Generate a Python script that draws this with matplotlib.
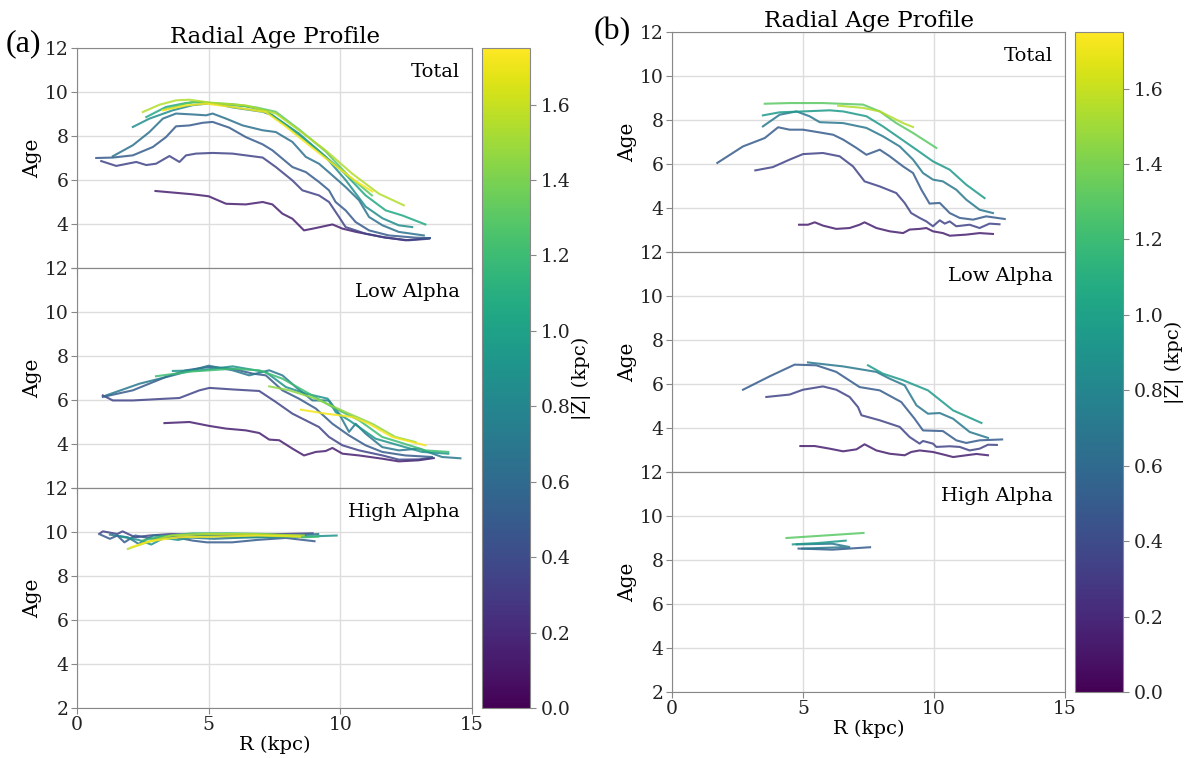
import numpy as np
import matplotlib
matplotlib.use('Agg')
import matplotlib.pyplot as plt
from matplotlib import cm, colors

plt.rcParams['font.family'] = ['DejaVu Serif']
plt.rcParams['font.size'] = 13.5

#--① data : |Z| of each line, R and Age points
a_total_z = [0.15, 0.35, 0.5, 0.65, 0.85, 1.05, 1.3, 1.55, 1.72]
a_total_r = [
    [2.98, 4.39, 5.0, 5.66, 6.41, 7.05, 7.42, 7.8, 8.18, 8.62, 9.0, 9.7, 10.08, 10.6, 11.6, 12.47, 13.4],
    [0.92, 1.49, 2.25, 2.63, 3.0, 3.51, 3.89, 4.14, 4.52, 5.15, 5.9, 7.05, 7.55, 8.18, 8.56, 9.19, 9.57, 9.95, 10.2, 10.96, 11.7, 12.6, 13.36],
    [0.73, 1.36, 2.12, 2.88, 3.38, 3.76, 4.27, 4.77, 5.15, 5.78, 6.41, 7.05, 7.42, 7.8, 8.18, 8.69, 9.19, 9.57, 9.82, 10.2, 10.58, 11.09, 11.84, 12.85, 13.4],
    [1.36, 2.12, 2.75, 3.26, 3.76, 4.39, 4.9, 5.15, 5.66, 6.29, 7.05, 7.55, 8.18, 8.69, 9.19, 9.7, 10.2, 10.71, 11.09, 11.6, 12.22, 13.17],
    [2.12, 2.75, 3.64, 4.39, 5.15, 5.9, 7.05, 7.42, 8.43, 9.44, 10.2, 10.96, 11.6, 12.22, 12.73],
    [2.63, 3.38, 4.14, 4.65, 5.5, 6.4, 7.17, 8.05, 9.06, 10.08, 10.96, 11.72, 12.35, 13.23],
    [3.3, 3.9, 4.4, 5.0, 5.9, 6.8, 7.55, 8.43, 9.44, 10.3, 11.2],
    [2.5, 3.13, 3.76, 4.27, 5.03, 6.41, 7.55, 8.43, 9.44, 10.45, 11.46, 12.41],
    [3.26, 4.14, 4.9, 5.9, 7.17, 7.92, 8.93, 9.82, 10.58, 11.21],
]
a_total_age = [
    [5.5, 5.35, 5.26, 4.92, 4.89, 5.0, 4.89, 4.47, 4.24, 3.71, 3.8, 3.98, 3.79, 3.64, 3.41, 3.26, 3.36],
    [6.86, 6.64, 6.82, 6.68, 6.74, 7.09, 6.82, 7.12, 7.2, 7.23, 7.2, 7.02, 6.59, 5.98, 5.53, 5.3, 5.0, 4.32, 3.86, 3.56, 3.38, 3.26, 3.33],
    [7.0, 7.02, 7.12, 7.5, 7.95, 8.44, 8.48, 8.6, 8.64, 8.38, 7.95, 7.62, 7.35, 6.97, 6.59, 6.36, 5.91, 5.53, 5.0, 4.62, 4.09, 3.71, 3.48, 3.38, 3.36],
    [7.08, 7.58, 8.18, 8.79, 9.02, 8.98, 8.94, 9.02, 8.79, 8.48, 8.26, 8.18, 7.73, 7.05, 6.74, 6.21, 5.68, 5.08, 4.32, 3.94, 3.64, 3.48],
    [8.41, 8.79, 9.17, 9.4, 9.5, 9.3, 9.1, 8.94, 8.11, 7.05, 6.0, 4.79, 4.26, 3.94, 3.86],
    [8.86, 9.32, 9.5, 9.55, 9.45, 9.35, 9.15, 8.4, 7.45, 6.4, 5.3, 4.62, 4.39, 3.98],
    [9.2, 9.4, 9.55, 9.5, 9.45, 9.3, 9.1, 8.3, 7.3, 6.2, 5.3],
    [9.09, 9.42, 9.62, 9.65, 9.52, 9.39, 9.02, 8.26, 7.35, 6.29, 5.38, 4.85],
    [9.17, 9.39, 9.47, 9.32, 9.09, 8.44, 7.47, 6.64, 5.95, 5.48],
]

a_low_z = [0.15, 0.35, 0.5, 0.7, 0.9, 1.2, 1.45, 1.72]
a_low_r = [
    [3.32, 4.27, 5.03, 5.66, 6.41, 6.92, 7.3, 7.68, 8.18, 8.62, 9.07, 9.44, 9.7, 10.08, 10.71, 11.6, 12.22, 12.98, 13.55],
    [0.98, 1.36, 2.12, 3.38, 3.89, 4.65, 5.03, 5.91, 6.92, 7.55, 8.18, 8.81, 9.19, 9.57, 10.08, 10.71, 11.6, 12.22, 12.98, 13.48],
    [0.98, 2.12, 3.38, 4.14, 5.0, 5.91, 6.67, 7.17, 7.8, 8.43, 9.07, 9.7, 10.33, 10.96, 11.59, 12.47, 13.48],
    [1.11, 2.37, 3.64, 5.0, 5.91, 6.54, 7.3, 7.8, 8.31, 8.94, 9.57, 9.95, 10.33, 10.58, 10.96, 11.59, 12.22, 12.98, 13.86, 14.56],
    [3.64, 4.65, 5.91, 7.17, 7.93, 8.69, 9.52, 9.82, 10.33, 10.71, 11.34, 12.22, 13.1, 14.1],
    [3.0, 4.39, 5.91, 6.92, 7.8, 8.81, 9.7, 10.71, 11.59, 12.22, 13.23, 14.1],
    [7.3, 8.06, 9.07, 10.2, 11.21, 12.09, 12.85],
    [8.5, 9.45, 10.45, 11.09, 11.97, 12.73, 13.23],
]
a_low_age = [
    [4.95, 5.0, 4.82, 4.7, 4.62, 4.5, 4.2, 4.17, 3.79, 3.48, 3.64, 3.68, 3.82, 3.56, 3.48, 3.33, 3.21, 3.26, 3.36],
    [6.21, 5.98, 5.98, 6.06, 6.09, 6.44, 6.55, 6.48, 6.41, 5.91, 5.38, 5.0, 4.77, 4.32, 3.94, 3.71, 3.48, 3.29, 3.3, 3.38],
    [6.14, 6.44, 7.05, 7.35, 7.5, 7.42, 7.2, 7.12, 6.44, 6.06, 5.61, 4.92, 4.39, 3.94, 3.64, 3.48, 3.41],
    [6.21, 6.74, 7.12, 7.56, 7.35, 7.12, 7.35, 7.12, 6.59, 5.98, 5.98, 5.38, 4.55, 4.92, 4.47, 3.86, 3.71, 3.79, 3.41, 3.35],
    [7.32, 7.35, 7.53, 7.27, 6.59, 6.29, 6.06, 5.45, 5.08, 4.77, 4.24, 3.94, 3.64, 3.56],
    [7.08, 7.3, 7.42, 7.35, 6.97, 6.29, 5.68, 5.08, 4.32, 4.09, 3.71, 3.64],
    [6.62, 6.44, 6.06, 5.45, 4.92, 4.32, 4.09],
    [5.56, 5.38, 5.23, 4.92, 4.32, 4.09, 3.94],
]

a_high_z = [0.35, 0.5, 0.7, 0.9, 1.2, 1.55, 1.72]
a_high_r = [
    [0.84, 0.98, 1.53, 1.73, 2.21, 2.75, 3.57, 4.39, 5.2, 6.57, 7.93, 8.95],
    [0.91, 1.25, 1.53, 1.8, 2.21, 2.89, 3.57, 4.39, 4.93, 5.89, 6.84, 7.93, 9.02],
    [1.25, 1.93, 2.34, 2.89, 4.11, 5.2, 6.57, 7.93, 9.16],
    [1.66, 2.34, 2.82, 3.3, 3.84, 4.66, 5.89, 7.25, 8.61, 9.86],
    [2.48, 3.16, 4.39, 5.75, 7.11, 8.61, 9.16],
    [1.93, 2.48, 2.89, 3.57, 4.93, 6.57, 8.61],
    [2.07, 2.75, 3.84, 5.2, 6.84, 8.47],
]
a_high_age = [
    [9.91, 10.03, 9.91, 10.03, 9.76, 9.84, 9.91, 9.88, 9.84, 9.88, 9.91, 9.94],
    [9.87, 9.69, 9.84, 9.53, 9.84, 9.69, 9.8, 9.61, 9.53, 9.53, 9.64, 9.73, 9.58],
    [9.88, 9.76, 9.46, 9.84, 9.76, 9.69, 9.76, 9.8, 9.91],
    [9.79, 9.64, 9.43, 9.73, 9.64, 9.84, 9.76, 9.76, 9.79, 9.84],
    [9.61, 9.79, 9.94, 9.94, 9.91, 9.76, 9.79],
    [9.23, 9.46, 9.61, 9.84, 9.91, 9.91, 9.84],
    [9.31, 9.58, 9.76, 9.79, 9.84, 9.79],
]

b_total_z = [0.15, 0.35, 0.5, 0.7, 0.95, 1.3, 1.55]
b_total_r = [
    [4.85, 5.19, 5.45, 5.76, 6.27, 6.78, 7.16, 7.35, 7.8, 8.31, 8.82, 9.07, 9.45, 9.71, 9.96, 10.34, 10.6, 11.23, 11.74, 12.25],
    [3.18, 3.85, 4.49, 5.0, 5.76, 6.4, 6.91, 7.35, 7.93, 8.56, 8.88, 9.13, 9.45, 9.71, 9.96, 10.22, 10.41, 10.6, 10.85, 11.36, 11.74, 12.12, 12.5],
    [1.73, 2.71, 3.54, 4.05, 4.49, 5.0, 5.76, 6.15, 6.53, 7.04, 7.42, 7.93, 8.31, 8.82, 9.2, 9.52, 9.83, 10.22, 10.6, 10.98, 11.49, 11.99, 12.7],
    [3.47, 4.11, 4.75, 5.25, 5.64, 6.53, 7.42, 8.05, 8.69, 9.2, 9.58, 9.96, 10.34, 10.85, 11.23, 11.74, 12.25],
    [3.47, 4.11, 5.0, 6.02, 6.53, 7.42, 8.05, 8.69, 9.33, 9.96, 10.6, 11.23, 11.93],
    [3.54, 4.49, 5.76, 7.29, 7.93, 8.56, 9.2, 10.09],
    [6.34, 7.29, 7.93, 8.44, 8.82, 9.2],
]
b_total_age = [
    [3.24, 3.24, 3.35, 3.2, 3.05, 3.09, 3.24, 3.35, 3.09, 2.94, 2.86, 3.02, 3.05, 3.09, 2.94, 2.86, 2.74, 2.79, 2.86, 2.82],
    [5.71, 5.86, 6.2, 6.45, 6.5, 6.35, 5.89, 5.21, 4.98, 4.68, 4.23, 3.77, 3.55, 3.39, 3.17, 3.44, 3.29, 3.39, 3.17, 3.24, 3.09, 3.29, 3.26],
    [6.05, 6.8, 7.18, 7.67, 7.56, 7.56, 7.41, 7.33, 7.11, 6.73, 6.42, 6.65, 6.35, 5.89, 5.59, 4.83, 4.2, 4.23, 3.77, 3.55, 3.47, 3.62, 3.5],
    [7.71, 8.24, 8.39, 8.17, 7.9, 7.86, 7.64, 7.26, 6.8, 6.2, 5.59, 5.29, 5.21, 4.83, 4.38, 3.92, 3.77],
    [8.21, 8.35, 8.39, 8.44, 8.39, 8.17, 7.71, 7.18, 6.65, 6.12, 5.74, 5.06, 4.45],
    [8.74, 8.77, 8.77, 8.7, 8.39, 7.86, 7.41, 6.73],
    [8.65, 8.55, 8.39, 8.09, 7.86, 7.68],
]

b_low_z = [0.15, 0.35, 0.5, 0.7, 0.95]
b_low_r = [
    [4.9, 5.45, 6.02, 6.53, 7.04, 7.35, 7.8, 8.31, 8.88, 9.13, 9.45, 9.96, 10.34, 10.73, 11.23, 11.62, 12.06],
    [3.6, 4.49, 5.0, 5.76, 6.27, 6.78, 7.1, 7.23, 7.93, 8.69, 9.07, 9.45, 9.58, 9.96, 10.09, 10.6, 10.98, 11.36, 11.74, 12.06, 12.4],
    [2.71, 3.73, 4.68, 5.51, 6.27, 7.16, 7.93, 8.75, 9.26, 9.58, 10.34, 10.85, 11.23, 11.74, 12.6],
    [5.19, 6.53, 7.8, 8.31, 8.88, 9.33, 9.77, 10.22, 10.73, 11.36, 12.06],
    [7.48, 8.05, 8.82, 9.77, 10.73, 11.81],
]
b_low_age = [
    [3.18, 3.18, 3.06, 2.94, 3.03, 3.26, 2.98, 2.83, 2.76, 2.91, 2.98, 2.91, 2.8, 2.68, 2.76, 2.82, 2.76],
    [5.41, 5.52, 5.74, 5.89, 5.74, 5.41, 4.95, 4.58, 4.35, 4.05, 3.59, 3.29, 3.41, 3.29, 3.14, 3.17, 3.14, 2.98, 3.06, 3.24, 3.23],
    [5.74, 6.35, 6.88, 6.85, 6.55, 5.86, 5.71, 5.18, 4.42, 3.89, 3.86, 3.44, 3.32, 3.44, 3.48],
    [6.98, 6.8, 6.55, 6.24, 5.94, 5.03, 4.65, 4.68, 4.42, 3.82, 3.55],
    [6.85, 6.47, 6.17, 5.71, 4.8, 4.23],
]

b_high_z = [0.5, 0.7, 0.95, 1.3]
b_high_r = [
    [4.83, 6.12, 7.56],
    [4.76, 6.12, 6.77, 4.97],
    [4.61, 5.55, 6.63],
    [4.37, 7.31],
]
b_high_age = [
    [8.52, 8.47, 8.58],
    [8.71, 8.74, 8.59, 8.52],
    [8.71, 8.77, 8.88],
    [9.0, 9.23],
]

panel_names = ['Total', 'Low Alpha', 'High Alpha']
zmax = 1.75

#--② 그림 준비
W, H = 1184, 758
fig = plt.figure(figsize=(W / 100, H / 100), dpi=100)
cmap = plt.get_cmap('viridis')
norm = colors.Normalize(vmin=0, vmax=zmax)


def px_box(left, top, width, height):
    return [left / W, 1 - (top + height) / H, width / W, height / H]


def draw_panel(x0, y0, w, sub_h, data, cbar_x, tag, tag_xy):
    axes = []
    for i, (zs, rs, ages) in enumerate(data):
        ax = fig.add_axes(px_box(x0, y0 + i * sub_h, w, sub_h))
        for z, r, a in zip(zs, rs, ages):
            ax.plot(r, a, color=cmap(norm(z)), lw=1.5, alpha=0.85)
        ax.set_xlim(0, 15)
        ax.set_ylim(2, 12)
        ax.set_xticks([0, 5, 10, 15])
        ax.set_yticks([2, 4, 6, 8, 10, 12])
        if i < 2:
            # 아래 패널의 12와 겹치므로 2는 숨김
            ax.set_yticklabels(['', '4', '6', '8', '10', '12'])
        ax.grid(True, color='#dddddd', lw=1)
        ax.set_axisbelow(True)
        ax.set_ylabel('Age', fontsize=14.5, labelpad=2)
        ax.text(0.97, 0.93, panel_names[i], transform=ax.transAxes,
                ha='right', va='top', fontsize=14)
        for s in ax.spines.values():
            s.set_color('#888888')
        ax.tick_params(colors='#888888', labelcolor='#222222', length=4, pad=2)
        if i < 2:
            ax.tick_params(labelbottom=False)
        axes.append(ax)
    axes[0].set_title('Radial Age Profile', fontsize=16.5, pad=2)
    axes[-1].set_xlabel('R (kpc)', fontsize=14, labelpad=1)

    cax = fig.add_axes(px_box(cbar_x, y0, 48, 3 * sub_h))
    sm = cm.ScalarMappable(norm=norm, cmap=cmap)
    cb = fig.colorbar(sm, cax=cax)
    cb.set_ticks(np.arange(0, 1.61, 0.2))
    cb.set_label('|Z| (kpc)', fontsize=14, labelpad=1)
    cb.outline.set_edgecolor('#888888')
    cax.tick_params(colors='#888888', labelcolor='#222222', length=4)

    fig.text(tag_xy[0] / W, 1 - tag_xy[1] / H, tag, fontsize=23,
             family='Liberation Serif', ha='left', va='center')


data_a = [(a_total_z, a_total_r, a_total_age),
          (a_low_z, a_low_r, a_low_age),
          (a_high_z, a_high_r, a_high_age)]
data_b = [(b_total_z, b_total_r, b_total_age),
          (b_low_z, b_low_r, b_low_age),
          (b_high_z, b_high_r, b_high_age)]

draw_panel(77, 48, 395, 220, data_a, 482, '(a)', (6, 44))
draw_panel(672, 32, 393, 220, data_b, 1075, '(b)', (594, 32))

fig.savefig('out.png', dpi=100)
